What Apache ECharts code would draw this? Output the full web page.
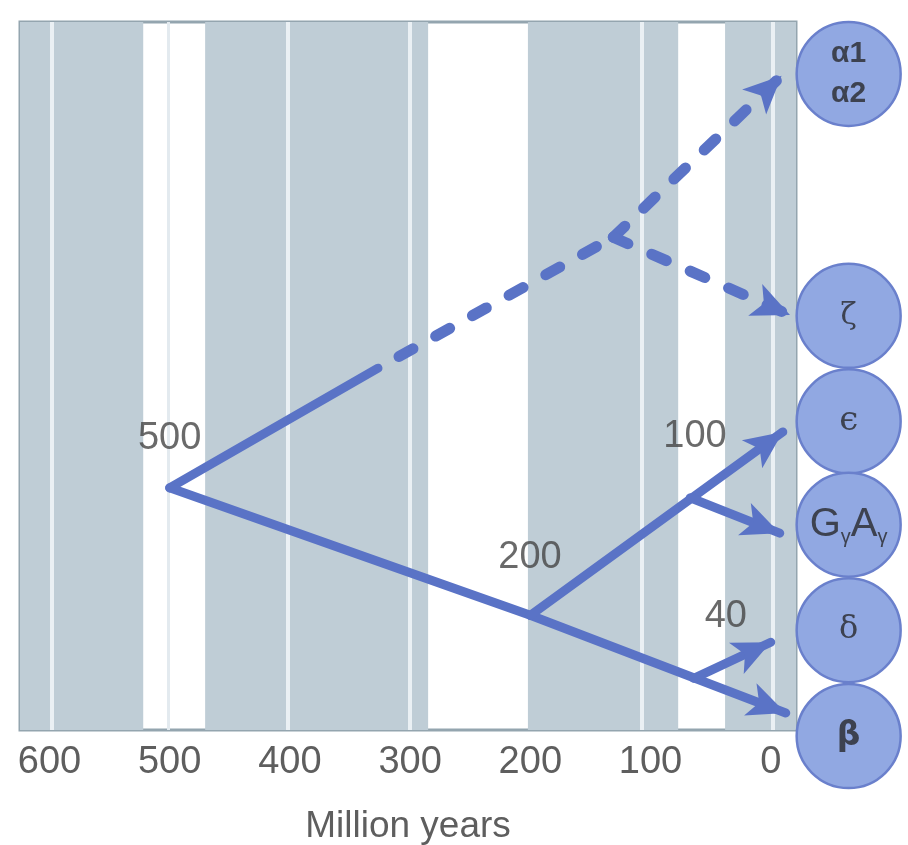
<!DOCTYPE html>
<html><head><meta charset="utf-8">
<script src="https://cdn.jsdelivr.net/npm/echarts@6/dist/echarts.min.js"></script>
<style>html,body{margin:0;padding:0;background:#fff}#c{width:908px;height:845px}</style>
</head><body><div id="c"></div>
<script>
// ---- data ----
const xTicks = [600, 500, 400, 300, 200, 100, 0];
const xName = 'Million years';
// grey geological bands [older, younger] (Myr ago)
const greyBands = [[624.5, 522], [470.5, 285], [202, 77], [38, -21]];
const whiteLines = [598, 401.5, 300, 107, -2];
const faintLines = [501];
// branch points: [time Myr ago, vertical position 0-100]
const solidBranches = [
  [[500, 34.2], [326.7, 51.1], false],
  [[500, 34.2], [200, 16.2], false],
  [[200, 16.2], [-12.5, 2.4], true],
  [[200, 16.2], [-10, 42.1], true],
  [[67, 32.8], [-7.5, 27.8], true],
  [[64, 7.3], [0, 12.4], true]
];
const dashedBranches = [
  [[326.7, 51.1], [131, 69.6], false],
  [[131, 69.6], [-9, 92.4], true],
  [[131, 69.6], [-16, 58.6], true]
];
const dashStart = [18, 0, 0];
const nodeLabels = ['500', '200', '100', '40'];
const nodeLabelX = [500, 200.3, 63, 37.4];
const nodeLabelY = [41.1, 24.3, 41.5, 16.0];
const genes = ['α1\nα2', 'ζ', 'ϵ', '{b|G}{s|γ}{b|A}{s|γ}', 'δ', 'β'];
const geneY = [92.66, 58.5, 43.6, 29.0, 14.1, -0.85];
const geneX = -64.8;

// ---- styling ----
const BLUE = '#5a73c6';
function segs(list, offsets) {
  return list.map(([a, b, arrow], i) => [
    Object.assign({ coord: a, symbol: 'none' },
      offsets ? { lineStyle: { color: BLUE, width: 11, type: [16, 26], dashOffset: offsets[i], cap: 'round' } } : {}),
    { coord: b, symbol: arrow ? 'arrow' : 'none', symbolSize: [26, 38] }
  ]);
}
const geneFonts = [
  { fontFamily: 'Liberation Sans', fontSize: 30, fontWeight: 'bold', lineHeight: 40 },
  { fontFamily: 'DejaVu Serif', fontSize: 30 },
  { fontFamily: 'DejaVu Serif', fontSize: 34 },
  {},
  { fontFamily: 'DejaVu Serif', fontSize: 32 },
  { fontFamily: 'DejaVu Sans', fontSize: 33, fontWeight: 'bold' }
];

const chart = echarts.init(document.getElementById('c'), null, { renderer: 'canvas' });
chart.setOption({
  animation: false,
  backgroundColor: '#ffffff',
  grid: {
    left: 20, right: 112, top: 22, bottom: 115,
    show: true, backgroundColor: '#ffffff', borderColor: '#94a5af', borderWidth: 3,
    containLabel: false, outerBoundsMode: 'none'
  },
  xAxis: {
    type: 'value', inverse: true, min: -21, max: 624.5,
    splitLine: { show: false }, axisTick: { show: false },
    axisLine: { show: false },
    axisLabel: {
      customValues: xTicks, margin: 14, fontSize: 38,
      fontFamily: 'Liberation Sans', color: '#5e5e5e'
    },
    name: xName, nameLocation: 'middle', nameGap: 78,
    nameTextStyle: { fontSize: 37, fontFamily: 'Liberation Sans', color: '#5e5e5e' }
  },
  yAxis: { type: 'value', min: 0, max: 100, show: false },
  series: [
    {
      type: 'line', data: [], z: 1, silent: true,
      markArea: {
        silent: true,
        itemStyle: { color: '#bfcdd6' },
        data: greyBands.map(b => [{ xAxis: b[0] }, { xAxis: b[1] }])
      },
      markLine: {
        silent: true, symbol: 'none', label: { show: false },
        data: whiteLines.map(v => ({ xAxis: v, lineStyle: { color: '#eaf0f4', width: 4, type: 'solid' } }))
          .concat(faintLines.map(v => ({ xAxis: v, lineStyle: { color: '#e3eaef', width: 3, type: 'solid' } })))
      }
    },
    {
      type: 'line', data: [], z: 3, silent: true,
      markLine: {
        silent: true, label: { show: false }, symbol: 'none',
        lineStyle: { color: BLUE, width: 9, type: 'solid', cap: 'round' },
        itemStyle: { color: BLUE },
        emphasis: { disabled: true },
        data: segs(solidBranches)
      }
    },
    {
      type: 'line', data: [], z: 3, silent: true,
      markLine: {
        silent: true, label: { show: false }, symbol: 'none',
        lineStyle: { color: BLUE, width: 11, type: [16, 26], cap: 'round' },
        itemStyle: { color: BLUE },
        emphasis: { disabled: true },
        data: segs(dashedBranches, dashStart)
      }
    },
    {
      type: 'scatter', z: 6, silent: true, symbolSize: 1,
      itemStyle: { color: 'rgba(0,0,0,0)' },
      label: {
        show: true, position: 'inside', formatter: p => p.data.name,
        fontSize: 38, fontFamily: 'Liberation Sans', color: '#454545'
      },
      data: nodeLabels.map((n, i) => ({ name: n, value: [nodeLabelX[i], nodeLabelY[i]] }))
    },
    {
      type: 'scatter', z: 5, silent: true, clip: false, symbolSize: 104,
      itemStyle: { color: '#91a8e2', borderColor: '#6a80cc', borderWidth: 2.5, opacity: 1 },
      data: genes.map((g, i) => ({
        name: g, value: [geneX, geneY[i]],
        label: Object.assign({
          show: true, position: 'inside', formatter: g, color: '#3d4250',
          rich: {
            b: { fontSize: 40, fontFamily: 'Liberation Sans', color: '#3d4250', lineHeight: 44 },
            s: { fontSize: 20, fontFamily: 'Liberation Sans', color: '#3d4250', padding: [26, 0, 0, 0] }
          }
        }, geneFonts[i])
      }))
    }
  ]
});
</script></body></html>
